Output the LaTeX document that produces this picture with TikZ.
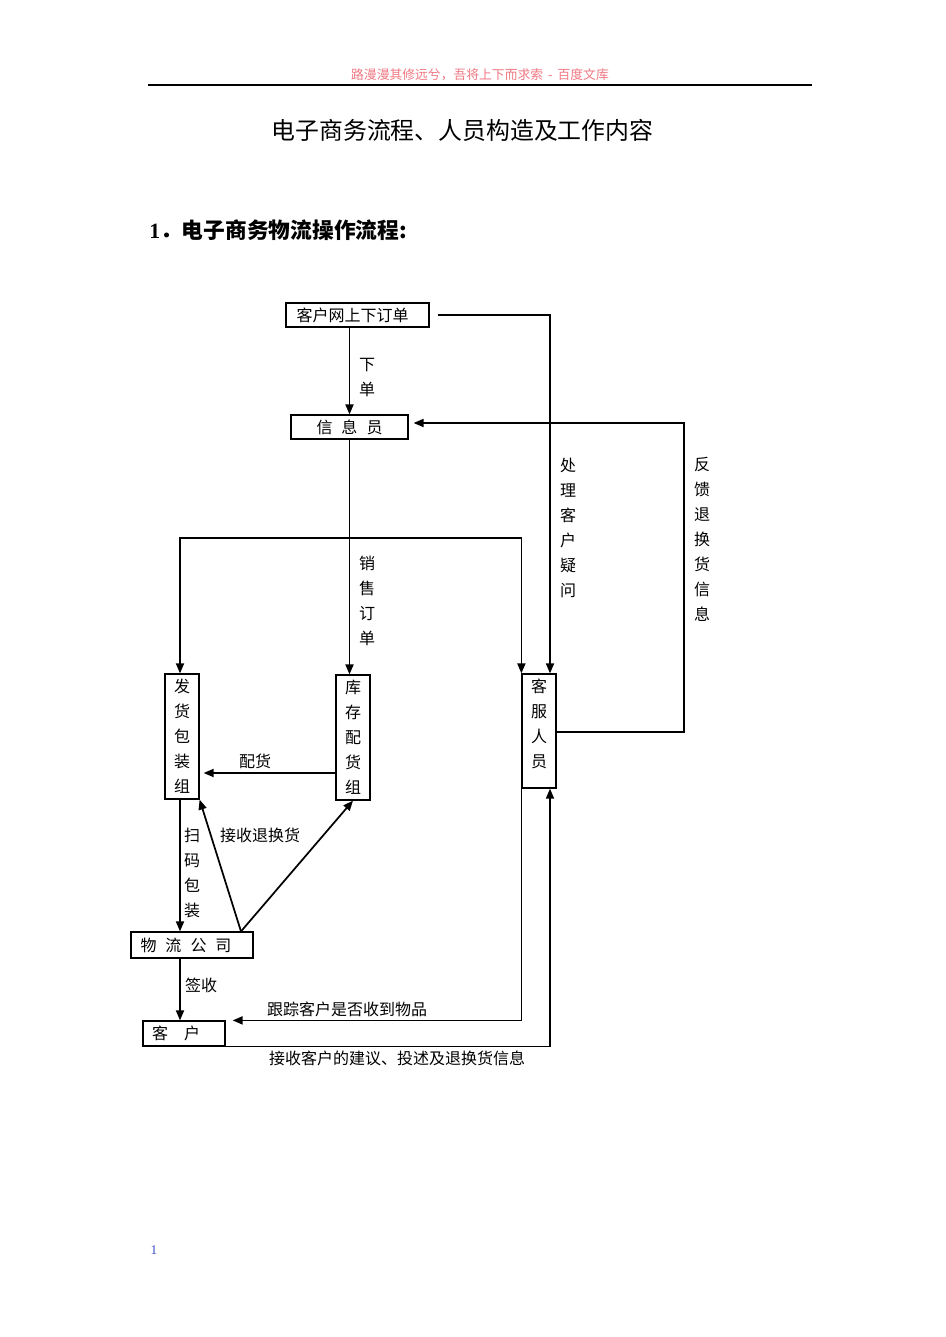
\documentclass[tikz,border=0pt]{standalone}
\usepackage{fontspec}
\setmainfont{Liberation Serif}
\newfontfamily\cjk{Noto Sans CJK SC}
\usetikzlibrary{arrows.meta,calc}
\definecolor{hdrpink}{RGB}{240,120,130}
\definecolor{pgblue}{RGB}{60,80,200}
\begin{document}
\begin{tikzpicture}[x=0.75pt,y=-0.75pt,
  box/.style={draw=black,line width=0.9pt,inner sep=0pt,font=\cjk\fontsize{12}{14}\selectfont},
  vbox/.style={box,minimum width=25.5pt,align=center,font=\cjk\fontsize{12}{18.75}\selectfont},
  vtext/.style={align=center,inner sep=0pt,font=\cjk\fontsize{12}{18.75}\selectfont},
  lbl/.style={inner sep=0pt,font=\cjk\fontsize{12}{14}\selectfont},
  arr/.style={line width=1.3pt,-{Triangle[length=7.5pt,width=6pt]}},
  ln/.style={line width=1.3pt}]
\useasboundingbox (0,0) rectangle (945,1337);
\fill[white] (0,0) rectangle (945,1337);

% header
\node[inner sep=0pt,text=hdrpink,font=\cjk\fontsize{9.6}{11}\selectfont] (hdr) at (480,75) {路漫漫其修远兮，吾将上下而求索 \,-\, 百度文库};
\coordinate (hl) at (148,85);
\coordinate (hr) at (812,85);
\draw[line width=1.1pt] (hl) -- (hr);

% title
\node[inner sep=0pt,font=\cjk\fontsize{17.9}{20}\selectfont] (title) at (462.5,130) {电子商务流程、人员构造及工作内容};
\node[inner sep=0pt,anchor=west,font=\fontsize{16.3}{18}\selectfont\bfseries] (sec) at (149,230) {1{\cjk\bfseries ．电子商务物流操作流程:}};

% boxes
\node[box,minimum width=107.25pt,minimum height=18pt] (order) at (357.5,315) {客户网上下订单\hspace*{7.5pt}};
\node[box,minimum width=87.75pt,minimum height=18pt] (info) at (349.5,427) {信\hspace{6.75pt}息\hspace{6.75pt}员};
\node[vbox,minimum height=93.75pt] (ship) at (182,736.5) {发\\货\\包\\装\\组};
\node[vbox,minimum height=93.75pt] (stock) at (353,737.5) {库\\存\\配\\货\\组};
\node[box,minimum width=25.5pt,minimum height=85.5pt] (cs) at (539,731) {};
\node[vtext] (cstext) at ($(cs.center)+(0,-7.5)$) {客\\服\\人\\员};
\node[box,minimum width=91.5pt,minimum height=19.5pt] (logi) at (192,945) {物\hspace{6.75pt}流\hspace{6.75pt}公\hspace{6.75pt}司\hspace*{9pt}};
\node[box,minimum width=61.5pt,minimum height=18.75pt] (cust) at (184,1033.5) {客\hspace{12pt}户\hspace*{12pt}};

% connectors
\draw[arr] (order.south -| info.north) -- (info.north);
\draw[arr] ($(order.east)+(8,0)$) -| ($(cs.north)+(11,0)$);
\coordinate (fb) at (684,423);
\draw[arr] ($(cs.east)+(0,1)$) -| (fb) -- ($(info.east)+(5,-4)$);
\draw[arr] (info.south) -- (info.south |- stock.north);
\coordinate (br) at (350,538);
\draw[arr] (br) -| ($(ship.north)+(-2,0)$);
\draw[arr] (br) -| (cs.north west);
\draw[arr] ($(stock.west)+(0,35.5)$) -- ($(ship.east)+(4,36.5)$);
\draw[arr] ($(ship.south)+(-2,0)$) -- ($(logi.north)+(-12,0)$);
\coordinate (ret) at ($(logi.north)+(49,0)$);
\draw[arr] (ret) -- (ship.south east);
\draw[arr] (ret) -- (stock.south);
\draw[arr] ($(logi.south)+(-12,0)$) -- ($(cust.north)+(-4,0)$);
\draw[arr] (cs.south west) |- ($(cust.north east)+(7,0)$);
\draw[arr] (cust.south east) -| ($(cs.south)+(11,0)$);

% labels
\node[vtext] (l1) at (367,377.5) {下\\单};
\node[vtext] (l2) at (568,527.5) {处\\理\\客\\户\\疑\\问};
\node[vtext] (l3) at (702,539) {反\\馈\\退\\换\\货\\信\\息};
\node[vtext] (l4) at (367,601) {销\\售\\订\\单};
\node[lbl] (l5) at (255,761) {配货};
\node[vtext] (l6) at (192,872.5) {扫\\码\\包\\装};
\node[lbl] (l7) at (260,835) {接收退换货};
\node[lbl] (l8) at (201,985) {签收};
\node[lbl] (l9) at (347,1009) {跟踪客户是否收到物品};
\node[lbl] (l10) at (397,1058) {接收客户的建议、投述及退换货信息};

% page number
\node[inner sep=0pt,text=pgblue,font=\fontsize{10}{12}\selectfont] (pg) at (154,1250) {1};
\end{tikzpicture}
\end{document}
